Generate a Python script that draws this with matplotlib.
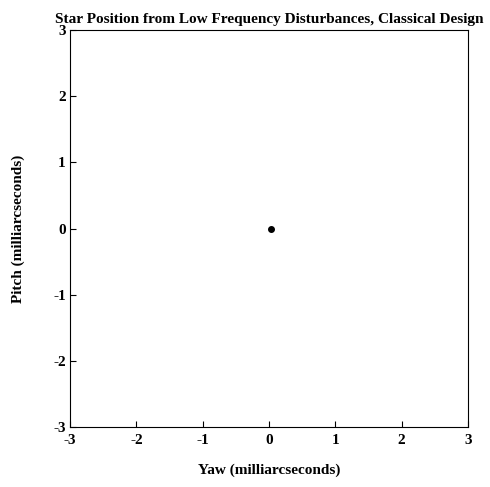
import numpy as np
import matplotlib
matplotlib.use("Agg")
from matplotlib import pyplot as plt

# star position (milliarcseconds)
yaw = [0.03]
pitch = [0.0]

xticks = [-3, -2, -1, 0, 1, 2, 3]
yticks = [-3, -2, -1, 0, 1, 2, 3]

plt.rcParams['font.family'] = ['Liberation Serif', 'DejaVu Serif']
plt.rcParams['font.weight'] = 'bold'
plt.rcParams['axes.unicode_minus'] = False

fig = plt.figure(figsize=(4.9, 4.87), dpi=100)
ax = fig.add_axes([0.143, 0.123, 0.812, 0.815])

ax.plot(yaw, pitch, 'o', color='black', markersize=4)

ax.set_xlim(-3, 3)
ax.set_ylim(-3, 3)
ax.set_xticks(xticks)
ax.set_yticks(yticks)
ax.tick_params(direction='in', length=4, labelsize=11)
ax.tick_params(axis='x', pad=5)
ax.tick_params(axis='y', pad=3)
for lbl in ax.get_xticklabels() + ax.get_yticklabels():
    lbl.set_fontweight('bold')

ax.set_title("Star Position from Low Frequency Disturbances, Classical Design",
             fontsize=11, fontweight='bold', pad=5)
ax.set_xlabel("Yaw (milliarcseconds)", fontsize=11, fontweight='bold', labelpad=12)
ax.set_ylabel("Pitch (milliarcseconds)", fontsize=11, fontweight='bold', labelpad=20)

plt.savefig("out.png")
